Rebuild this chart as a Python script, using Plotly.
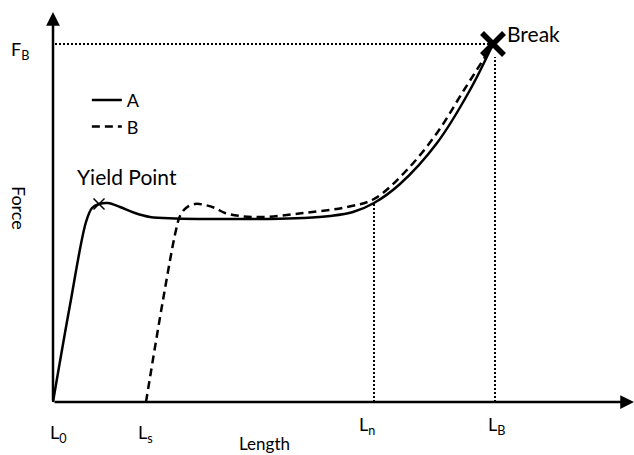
import plotly.graph_objects as go

# Curve A (solid) : length vs force (arbitrary units)
len_a = [0, 17, 33, 39, 46, 55, 67, 82, 97, 122, 167, 217, 250, 277, 300, 321, 347, 384, 417, 440]
force_a = [0, 97, 180, 194, 198, 199, 195, 189, 185, 183.5, 183, 183, 184, 186, 190, 199, 218, 259, 312, 358]

# Curve B (dashed)
len_b = [93, 110, 123, 127, 133, 142, 152, 162, 172, 187, 210, 250, 294, 321, 352, 384, 411, 439]
force_b = [0, 102, 172, 186, 194, 198, 197, 194, 189, 186, 185, 189, 195, 203, 230, 269, 312, 356]

# Key points
L0, Ls, Ln, LB = 0, 93, 321, 442
FB = 358
F_Ln = 200
yield_pt = (46, 198)
break_pt = (440, 358)

tick_labels = ["L<sub>0</sub>", "L<sub>s</sub>", "L<sub>n</sub>", "L<sub>B</sub>"]

FONT = "Lato"
fig = go.Figure()

dot = dict(color="black", width=2, dash="2px,2px")
# guide lines (dotted)
fig.add_trace(go.Scatter(x=[L0 + 2, LB - 5], y=[FB, FB], mode="lines",
                         line=dot, showlegend=False, hoverinfo="skip"))
fig.add_trace(go.Scatter(x=[LB, LB], y=[0, FB - 13], mode="lines",
                         line=dot, showlegend=False, hoverinfo="skip"))
fig.add_trace(go.Scatter(x=[Ln, Ln], y=[0, F_Ln], mode="lines",
                         line=dot, showlegend=False, hoverinfo="skip"))

fig.add_trace(go.Scatter(x=len_a, y=force_a, mode="lines", name="A",
                         line=dict(color="black", width=2.5, shape="spline", smoothing=1.0)))
fig.add_trace(go.Scatter(x=len_b, y=force_b, mode="lines", name="B",
                         line=dict(color="black", width=2.5, dash="8px,5px", shape="spline", smoothing=1.0)))

# markers
fig.add_trace(go.Scatter(x=[yield_pt[0]], y=[yield_pt[1]], mode="markers", showlegend=False,
                         marker=dict(symbol="x-thin-open", size=11, color="black",
                                     line=dict(color="black", width=1.5))))
fig.add_trace(go.Scatter(x=[break_pt[0]], y=[break_pt[1]], mode="markers", showlegend=False,
                         marker=dict(symbol="x-thin-open", size=22, color="black",
                                     line=dict(color="black", width=5.5))))

# axes arrows
fig.add_annotation(x=581, y=0, ax=0, ay=0, axref="x", ayref="y", xref="x", yref="y", text="",
                   showarrow=True, arrowhead=2, arrowsize=1.1, arrowwidth=2.5, arrowcolor="black")
fig.add_annotation(x=0, y=390, ax=0, ay=0, axref="x", ayref="y", xref="x", yref="y", text="",
                   showarrow=True, arrowhead=2, arrowsize=1.1, arrowwidth=2.5, arrowcolor="black")

# tick labels
tick_x = [L0 + 5, Ls - 1, Ln - 7, LB + 1]
tick_y = [-31, -31, -23, -23]
for tx, ty, t in zip(tick_x, tick_y, tick_labels):
    fig.add_annotation(x=tx, y=ty, text=t, showarrow=False, font=dict(family=FONT, size=18, color="black"))

fig.add_annotation(x=211, y=0, yref="paper", yanchor="bottom", text="Length", showarrow=False, borderpad=0,
                   font=dict(family=FONT, size=17, color="black"))
fig.add_annotation(x=-33, y=FB - 6, text="F<sub>B</sub>", showarrow=False,
                   font=dict(family=FONT, size=18, color="black"))
fig.add_annotation(x=-34, y=194, text="Force", showarrow=False, textangle=90,
                   font=dict(family=FONT, size=18, color="black"))
fig.add_annotation(x=74, y=226, text="Yield Point", showarrow=False,
                   font=dict(family=FONT, size=21, color="black"))
fig.add_annotation(x=480, y=369, text="Break", showarrow=False,
                   font=dict(family=FONT, size=21, color="black"))

fig.update_layout(
    width=634, height=455,
    margin=dict(l=0, r=0, t=0, b=0),
    paper_bgcolor="white", plot_bgcolor="white",
    xaxis=dict(range=[-53, 581], visible=False, fixedrange=True),
    yaxis=dict(range=[-53, 402], visible=False, fixedrange=True),
    showlegend=True,
    legend=dict(x=0.137, y=0.82, xanchor="left", yanchor="top", bgcolor="rgba(0,0,0,0)",
                font=dict(family=FONT, size=18, color="black"), borderwidth=0),
)

fig.write_html("out.html", config={"displayModeBar": False})
